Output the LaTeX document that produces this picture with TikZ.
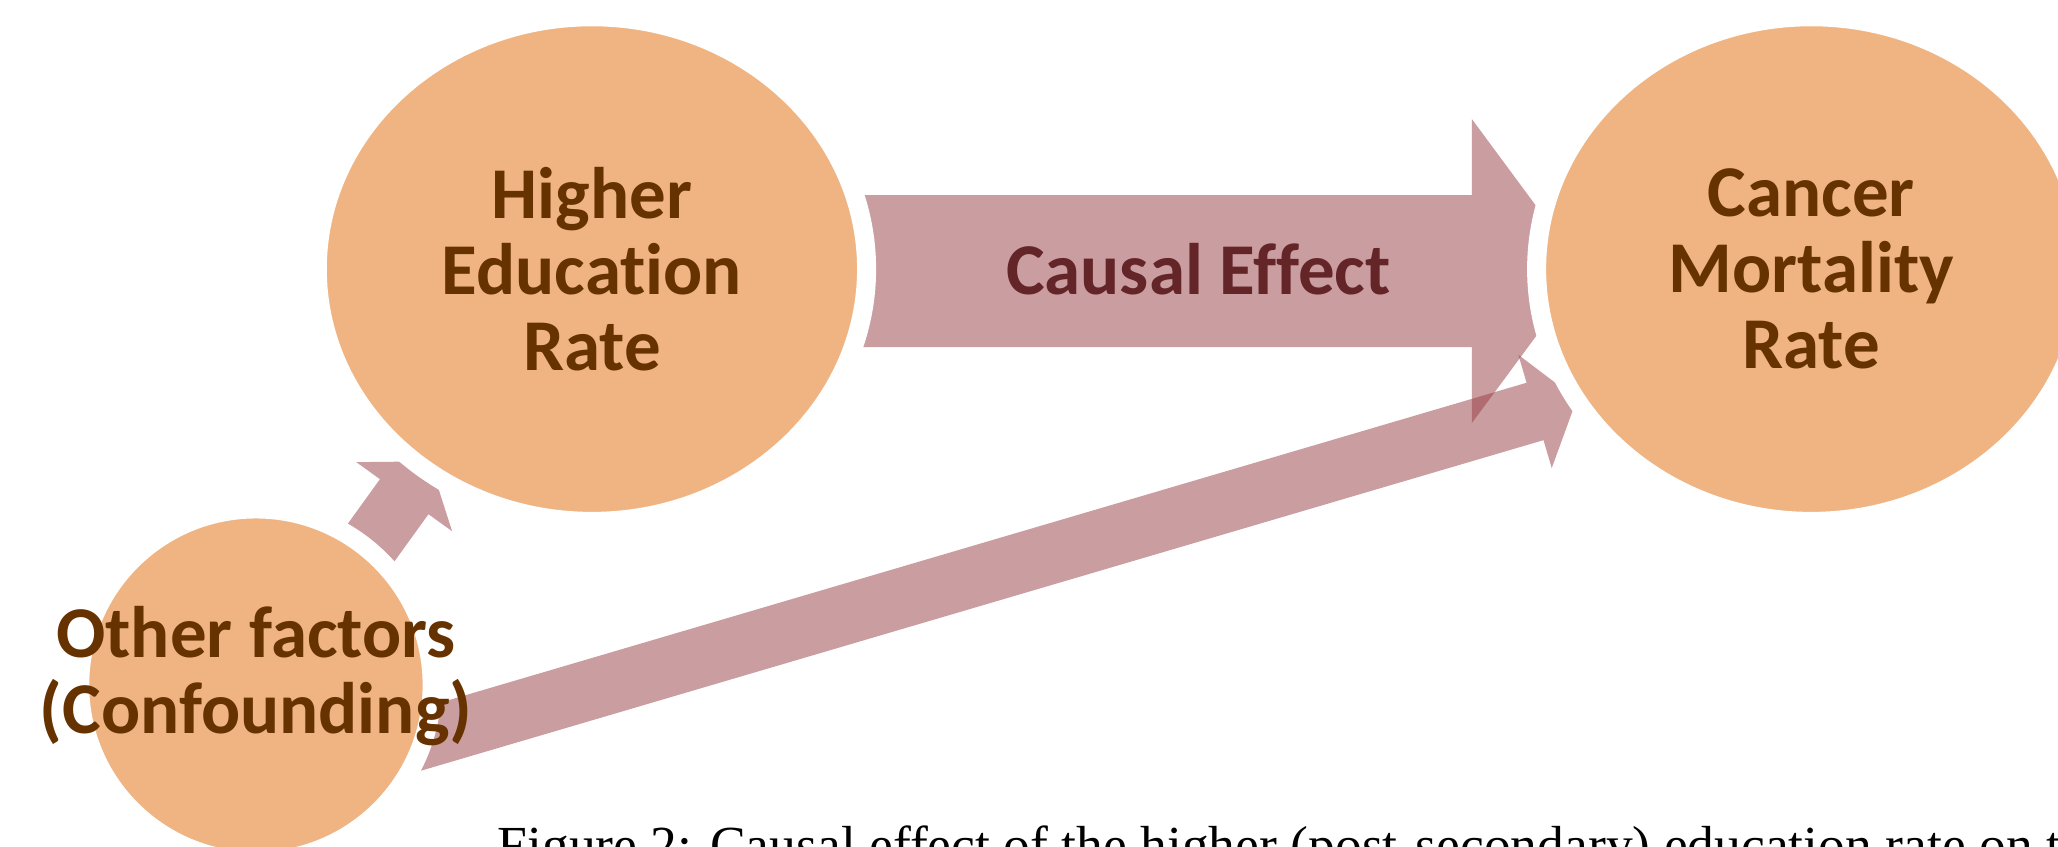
\documentclass[tikz,border=0pt]{standalone}
\usepackage{fontspec}
\newfontfamily\krfont{Carlito}[Ligatures=NoCommon]
\newfontfamily\capfont{Liberation Serif}
\usetikzlibrary{shapes.geometric,calc,backgrounds}
\definecolor{nodefill}{RGB}{240,180,131}
\definecolor{nodetext}{RGB}{102,51,0}
\definecolor{effecttext}{RGB}{99,37,40}
\definecolor{arrowcol}{RGB}{150,60,65}
\tikzset{
  labelfont/.style={font=\krfont\bfseries\fontsize{27.8}{29}\selectfont},
  bubble/.style={ellipse, fill=nodefill, draw=white, line width=7.25pt, inner sep=0pt,
    text=nodetext, align=center, labelfont},
  arrowfill/.style={fill=arrowcol, fill opacity=0.5},
}
% #1 start, #2 tip, #3 shaft half width, #4 head half width, #5 head length
\newcommand\fatarrow[5]{%
  \coordinate (fa-b) at ($(#2)!#5!(#1)$);
  \fill[arrowfill] ($(#1)!#3!90:(#2)$) -- ($(fa-b)!#3!90:(#2)$) -- ($(fa-b)!#4!90:(#2)$)
    -- (#2) -- ($(fa-b)!#4!-90:(#2)$) -- ($(fa-b)!#3!-90:(#2)$) -- ($(#1)!#3!-90:(#2)$) -- cycle;
}
\begin{document}
\begin{tikzpicture}[x=0.5pt,y=-0.5pt]
\useasboundingbox (0,0) rectangle (1568,645);
\clip (0,0) rectangle (1568,645);
\node[bubble, minimum width=209.25pt, minimum height=192.25pt] (edu) at (451,205) {Higher\\Education\\Rate};
\node[bubble, minimum width=209.25pt, minimum height=192.25pt] (cancer) at (1380,205) {Cancer\\Mortality\\Rate};
\node[bubble, minimum width=134.25pt, minimum height=134.25pt] (conf) at (195,522) {};
\node[text=nodetext, align=center, labelfont] (conflabel) at (195,515) {Other factors\\(Confounding)};
\coordinate (ce-start) at ($(edu.center)+(0,1.5)$);
\coordinate (ce-tip) at (1207,206.5);
\coordinate (cd-start) at (240,587.2);
\coordinate (cd-tip) at (1201.4,304.1);
\coordinate (cs-start) at (227.9,489.4);
\coordinate (cs-tip) at (327.4,351.5);
\begin{scope}[on background layer]
  \fatarrow{ce-start}{ce-tip}{28.95pt}{57.85pt}{42.75pt}
  \fatarrow{cd-start}{cd-tip}{11.4pt}{22.5pt}{16.6pt}
  \fatarrow{cs-start}{cs-tip}{11.4pt}{22.5pt}{16.6pt}
\end{scope}
\node[text=effecttext, labelfont] (effect) at (913,205) {Causal Effect};
\node[anchor=base west, font=\capfont\fontsize{20.4}{24}\selectfont, inner sep=0pt] (caption) at (378.7,658) {Figure 2: Causal effect of the higher (post-secondary) education rate on the cancer mortality rate};
\end{tikzpicture}
\end{document}
